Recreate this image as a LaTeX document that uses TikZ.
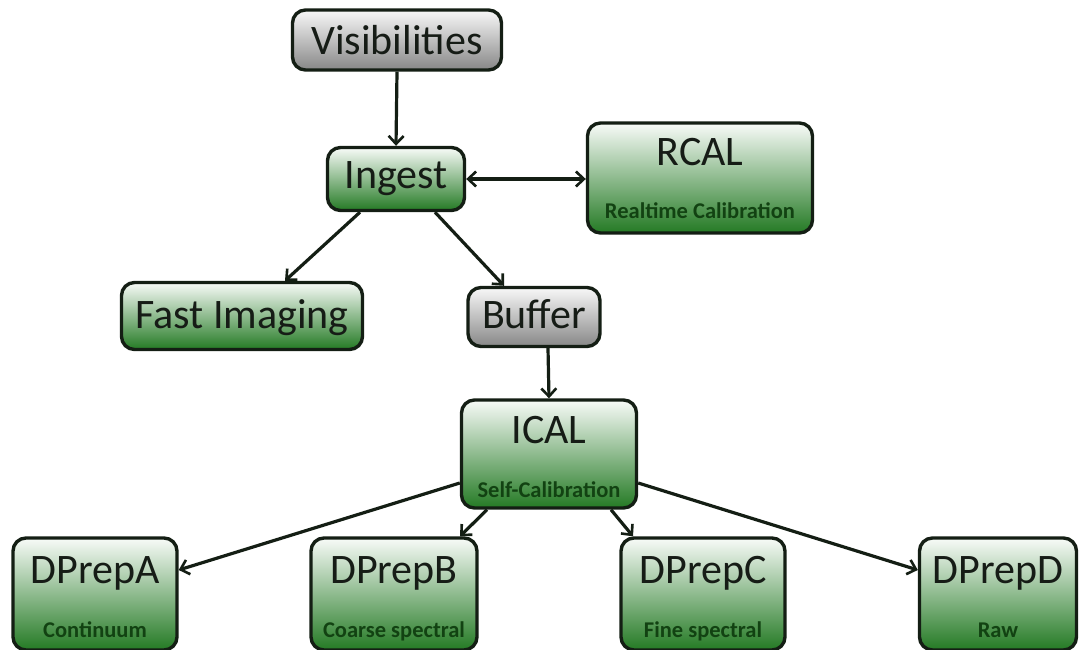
\documentclass[tikz,border=0pt]{standalone}
\usepackage{fontspec}
\setmainfont{Carlito}
\usetikzlibrary{arrows.meta,calc}
\definecolor{gtop}{RGB}{248,251,248}
\definecolor{gbot}{RGB}{36,122,36}
\definecolor{ytop}{RGB}{248,248,248}
\definecolor{ybot}{RGB}{135,135,135}
\definecolor{edge}{RGB}{20,30,20}
\definecolor{subc}{RGB}{18,66,18}
\definecolor{titc}{RGB}{22,28,22}
\tikzset{
  box/.style={draw=edge, line width=3.4pt, rounded corners=13pt, inner sep=0pt},
  greenbox/.style={box, top color=gtop, bottom color=gbot},
  graybox/.style={box, top color=ytop, bottom color=ybot},
  ttl/.style={text=titc, inner sep=0pt, anchor=base, font=\fontsize{42}{48}\selectfont},
  sub/.style={text=subc, inner sep=0pt, anchor=base, font=\fontsize{22.5}{25}\selectfont\bfseries},
  tip/.tip={Straight Barb[length=8pt,width=15pt,line width=2.6pt]},
  conn/.style={draw=edge, line width=3.2pt, -tip},
}
\begin{document}
\begin{tikzpicture}[x=1pt,y=-1pt]
\useasboundingbox (0,0) rectangle (1081,650);
% boxes
\node[graybox, minimum width=209pt, minimum height=60pt] (vis) at (397,40) {};
\node[ttl] (vist) at (397,55) {Visibilities};
\node[greenbox, minimum width=137pt, minimum height=63pt] (ingest) at (396,179) {};
\node[ttl] (ingt) at (396,188) {Ingest};
\node[greenbox, minimum width=225pt, minimum height=110pt] (rcal) at (700,178) {};
\node[ttl] (rcalt) at (700,165) {RCAL};
\node[sub] (rcals) at (700,218) {Realtime Calibration};
\node[greenbox, minimum width=241pt, minimum height=67pt] (fast) at (242,316) {};
\node[ttl] (fastt) at (242,328) {Fast Imaging};
\node[graybox, minimum width=132pt, minimum height=59pt] (buf) at (534,317) {};
\node[ttl] (buft) at (534,328) {Buffer};
\node[greenbox, minimum width=175pt, minimum height=108pt] (ical) at (549,454) {};
\node[ttl] (icalt) at (549,443) {ICAL};
\node[sub] (icals) at (549,497) {Self-Calibration};
\node[greenbox, minimum width=164pt, minimum height=112pt] (dpa) at (95,594) {};
\node[ttl] (dpat) at (95,583) {DPrepA};
\node[sub] (dpas) at (95,637) {Continuum};
\node[greenbox, minimum width=166pt, minimum height=112pt] (dpb) at (394,594) {};
\node[ttl] (dpbt) at (394,583) {DPrepB};
\node[sub] (dpbs) at (394,637) {Coarse spectral};
\node[greenbox, minimum width=164pt, minimum height=112pt] (dpc) at (703,594) {};
\node[ttl] (dpct) at (703,583) {DPrepC};
\node[sub] (dpcs) at (703,637) {Fine spectral};
\node[greenbox, minimum width=157pt, minimum height=112pt] (dpd) at (998,594) {};
\node[ttl] (dpdt) at (998,583) {DPrepD};
\node[sub] (dpds) at (998,637) {Raw};
% connectors
\draw[conn] (vis.south) -- (ingest.north);
\draw[conn, tip-tip] (ingest.east) -- (ingest.east -| rcal.west);
\draw[conn] ($(ingest.south)+(-36,0)$) -- ($(fast.north)+(43,0)$);
\draw[conn] ($(ingest.south)+(39,0)$) -- ($(buf.north)+(-30,0)$);
\draw[conn] ($(buf.south)+(14,0)$) -- (ical.north);
\draw[conn] ($(ical.west)+(0,29)$) -- ($(dpa.east)+(0,-24)$);
\draw[conn] ($(ical.south)+(-62,0)$) -- ($(dpb.north)+(66,0)$);
\draw[conn] ($(ical.south)+(62,0)$) -- ($(dpc.north)+(-70,0)$);
\draw[conn] ($(ical.east)+(0,29)$) -- ($(dpd.west)+(0,-24)$);
\end{tikzpicture}
\end{document}
